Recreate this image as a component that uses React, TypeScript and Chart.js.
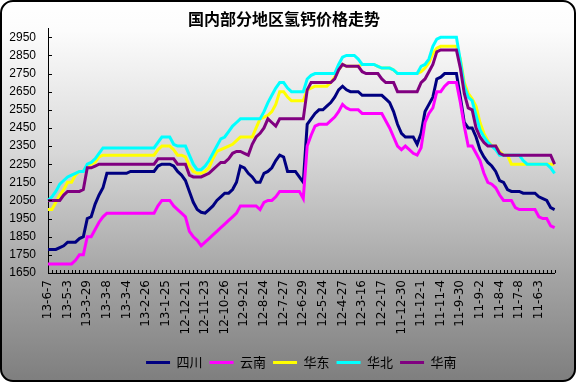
import React, { useEffect, useRef } from 'react';
import { Chart, registerables } from 'chart.js';

Chart.register(...registerables);

const chartTitle = '国内部分地区氢钙价格走势';

const tickLabels = [
  '13-6-7', '13-5-3', '13-3-29', '13-3-8', '13-3-4', '13-2-26', '13-1-25',
  '12-12-21', '12-11-23', '12-10-26', '12-9-21', '12-8-24', '12-7-27', '12-6-29',
  '12-5-24', '12-4-27', '12-3-16', '12-2-17', '11-12-30', '11-12-1', '11-11-4',
  '11-9-30', '11-9-2', '11-8-4', '11-7-8', '11-6-3',
];

const yTicks = [1650, 1750, 1850, 1950, 2050, 2150, 2250, 2350, 2450, 2550, 2650, 2750, 2850, 2950];

const sichuan = [
  1780, 1780, 1780, 1790, 1800, 1820, 1820, 1820, 1840, 1850,
  1950, 1960, 2030, 2080, 2120, 2200, 2200, 2200, 2200, 2200,
  2200, 2210, 2210, 2210, 2210, 2210, 2210, 2210, 2240, 2250,
  2250, 2250, 2240, 2210, 2190, 2160, 2100, 2040, 2000, 1985,
  1980, 2000, 2020, 2050, 2070, 2090, 2090, 2110, 2150, 2240,
  2230, 2200, 2180, 2150, 2150, 2200, 2210, 2230, 2270, 2300,
  2290, 2210, 2210, 2210, 2180, 2150, 2470, 2500, 2530, 2550,
  2550, 2570, 2590, 2620, 2660, 2680, 2660, 2650, 2650, 2650,
  2630, 2630, 2630, 2630, 2630, 2630, 2610, 2590, 2540, 2470,
  2420, 2400, 2400, 2400, 2360, 2420, 2540, 2580, 2620, 2720,
  2730, 2750, 2750, 2750, 2750, 2620, 2480, 2450, 2450, 2400,
  2330, 2290, 2260, 2240, 2210, 2160, 2150, 2110, 2100, 2100,
  2100, 2090, 2090, 2090, 2090, 2070, 2060, 2050, 2010, 2000,
];

const yunnan = [
  1700, 1700, 1700, 1700, 1700, 1700, 1700, 1720, 1750, 1750,
  1850, 1850, 1890, 1930, 1960, 1980, 1980, 1980, 1980, 1980,
  1980, 1980, 1980, 1980, 1980, 1980, 1980, 1980, 2020, 2050,
  2050, 2050, 2020, 2000, 1980, 1960, 1880, 1850, 1830, 1800,
  1820, 1840, 1860, 1880, 1900, 1920, 1940, 1960, 1980, 2020,
  2020, 2020, 2020, 2020, 2000, 2040, 2050, 2050, 2070, 2100,
  2100, 2100, 2100, 2100, 2100, 2060, 2350, 2410, 2460, 2470,
  2470, 2470, 2490, 2510, 2540, 2580, 2560, 2550, 2550, 2550,
  2530, 2530, 2530, 2530, 2530, 2530, 2490, 2450, 2400, 2350,
  2330, 2350, 2330, 2310, 2300, 2340, 2480, 2530, 2560, 2650,
  2650, 2680, 2700, 2700, 2700, 2590, 2460, 2350, 2350, 2310,
  2270, 2200, 2150, 2140, 2120, 2080, 2050, 2050, 2050, 2010,
  2000, 2000, 2000, 2000, 2000, 1960, 1950, 1950, 1910, 1900,
];

const huadong = [
  2000, 2000, 2040, 2080, 2110, 2150, 2150, 2190, 2210, 2210,
  2240, 2250, 2260, 2290, 2300, 2300, 2300, 2300, 2300, 2300,
  2300, 2300, 2300, 2300, 2300, 2300, 2300, 2300, 2330, 2350,
  2350, 2350, 2330, 2300, 2300, 2290, 2240, 2210, 2200, 2200,
  2210, 2230, 2280, 2320, 2330, 2340, 2350, 2360, 2380, 2400,
  2400, 2400, 2400, 2450, 2500, 2510, 2520, 2540, 2580, 2650,
  2650, 2620, 2600, 2600, 2600, 2600, 2660, 2670, 2680, 2680,
  2680, 2680, 2700, 2730, 2770, 2800, 2790, 2790, 2790, 2790,
  2800, 2800, 2800, 2800, 2790, 2780, 2780, 2780, 2770, 2750,
  2750, 2750, 2750, 2750, 2750, 2760, 2780, 2810, 2860, 2890,
  2900, 2900, 2900, 2900, 2900, 2830, 2700, 2640, 2610, 2570,
  2480, 2420, 2380, 2350, 2350, 2320, 2300, 2300, 2250, 2250,
  2250, 2250, 2250, 2250, 2250, 2250, 2250, 2250, 2250, 2250,
];

const huabei = [
  2050, 2070, 2100, 2140, 2160, 2180, 2190, 2200, 2210, 2210,
  2250, 2260, 2280, 2310, 2340, 2340, 2340, 2340, 2340, 2340,
  2340, 2340, 2340, 2340, 2340, 2340, 2340, 2340, 2370, 2400,
  2400, 2400, 2360, 2350, 2350, 2350, 2300, 2250, 2220, 2220,
  2240, 2270, 2310, 2350, 2390, 2400, 2430, 2460, 2480, 2500,
  2500, 2500, 2500, 2500, 2500, 2540, 2590, 2630, 2670, 2700,
  2700, 2670, 2650, 2650, 2650, 2650, 2720, 2740, 2750, 2750,
  2750, 2750, 2750, 2750, 2800, 2840, 2850, 2850, 2850, 2830,
  2800, 2800, 2800, 2800, 2790, 2780, 2780, 2780, 2770, 2750,
  2750, 2750, 2750, 2750, 2750, 2790, 2800, 2830, 2900, 2940,
  2950, 2950, 2950, 2950, 2950, 2820, 2680, 2620, 2600, 2520,
  2440, 2400, 2370, 2350, 2330, 2300, 2300, 2300, 2300, 2300,
  2300, 2270, 2250, 2250, 2250, 2250, 2250, 2250, 2230, 2200,
];

const huanan = [
  2050, 2050, 2050, 2050, 2080, 2100, 2100, 2100, 2100, 2110,
  2230, 2230, 2240, 2250, 2250, 2250, 2250, 2250, 2250, 2250,
  2250, 2250, 2250, 2250, 2250, 2250, 2250, 2250, 2280, 2280,
  2280, 2280, 2280, 2250, 2250, 2250, 2190, 2180, 2180, 2180,
  2190, 2200, 2220, 2240, 2260, 2260, 2280, 2310, 2320, 2320,
  2310, 2300, 2360, 2400, 2420, 2450, 2500, 2480, 2460, 2500,
  2500, 2500, 2500, 2500, 2500, 2500, 2660, 2700, 2700, 2700,
  2700, 2700, 2700, 2720, 2770, 2800, 2790, 2790, 2790, 2790,
  2760, 2750, 2750, 2750, 2750, 2720, 2700, 2700, 2700, 2650,
  2650, 2650, 2650, 2650, 2650, 2700, 2720, 2760, 2800, 2870,
  2880, 2880, 2880, 2880, 2880, 2780, 2640, 2560, 2550, 2450,
  2400, 2370, 2350, 2350, 2350, 2310, 2300, 2300, 2300, 2300,
  2300, 2300, 2300, 2300, 2300, 2300, 2300, 2300, 2300, 2250,
];

const seriesNames = ['四川', '云南', '华东', '华北', '华南'];
const seriesColors = ['#000080', '#FF00FF', '#FFFF00', '#00FFFF', '#800080'];
const labelEvery = 5;

const panelPlugin = {
  id: 'panelPlugin',
  beforeDraw(chart: any) {
    const { ctx, width, height } = chart;
    ctx.save();
    const g = ctx.createLinearGradient(0, 0, 0, height);
    g.addColorStop(0, '#ffffff');
    g.addColorStop(0.08, '#fcfcfc');
    g.addColorStop(0.4, '#d8d8d8');
    g.addColorStop(0.73, '#a3a3a3');
    g.addColorStop(1, '#7e7e7e');
    ctx.beginPath();
    ctx.roundRect(1, 1, width - 2, height - 2, 12);
    ctx.fillStyle = g;
    ctx.fill();
    ctx.lineWidth = 2;
    ctx.strokeStyle = '#000';
    ctx.stroke();
    ctx.restore();
  },
  afterDatasetsDraw(chart: any) {
    const { ctx, chartArea, scales } = chart;
    const xs = scales.x;
    const ys = scales.y;
    ctx.save();
    ctx.strokeStyle = '#000';
    ctx.lineWidth = 1;
    ctx.beginPath();
    for (let i = 0; i < chart.data.labels.length; i++) {
      const px = Math.round(xs.getPixelForValue(i)) + 0.5;
      ctx.moveTo(px, chartArea.bottom);
      ctx.lineTo(px, chartArea.bottom - 3);
    }
    for (const v of yTicks) {
      const py = Math.round(ys.getPixelForValue(v)) + 0.5;
      ctx.moveTo(chartArea.left, py);
      ctx.lineTo(chartArea.left + 4, py);
    }
    ctx.stroke();
    ctx.restore();
  },
};

export default function App() {
  const ref = useRef<HTMLCanvasElement>(null);

  useEffect(() => {
    if (!ref.current) return;
    const values = [sichuan, yunnan, huadong, huabei, huanan];
    const categories = sichuan.map((_, i) => (i % labelEvery === 0 ? tickLabels[i / labelEvery] ?? '' : ''));
    const chart = new Chart(ref.current, {
      type: 'line',
      data: {
        labels: categories,
        datasets: values.map((data, k) => ({
          label: seriesNames[k],
          data,
          borderColor: seriesColors[k],
          backgroundColor: seriesColors[k],
          borderWidth: 3,
          pointRadius: 0,
          pointHoverRadius: 0,
          tension: 0,
          fill: false,
          order: values.length - k,
        })),
      },
      options: {
        responsive: false,
        animation: false,
        devicePixelRatio: 1,
        layout: { padding: { left: 0, right: 8, top: 0, bottom: 3 } },
        plugins: {
          title: {
            display: true,
            text: chartTitle,
            color: '#000',
            font: { family: '"Noto Sans CJK SC", sans-serif', size: 16, weight: 'bold' },
            padding: { top: 9, bottom: 0 },
          },
          legend: {
            display: true,
            position: 'bottom',
            fullSize: false,
            labels: {
              color: '#000',
              font: { family: '"Noto Sans CJK SC", sans-serif', size: 13 },
              boxWidth: 24,
              boxHeight: 3,
              padding: 7,
              sort: (a: any, b: any) => a.datasetIndex - b.datasetIndex,
              generateLabels: (c: any) =>
                Chart.defaults.plugins.legend.labels
                  .generateLabels(c)
                  .map((l: any) => ({ ...l, lineWidth: 0, fillStyle: l.strokeStyle })),
            },
          },
          tooltip: { enabled: false },
        },
        scales: {
          x: {
            type: 'category',
            offset: false,
            grid: { display: false, drawTicks: false },
            border: { display: true, color: '#000', width: 1 },
            ticks: {
              autoSkip: false,
              maxRotation: 90,
              minRotation: 90,
              padding: 7,
              color: '#000',
              font: { family: '"DejaVu Sans", sans-serif', size: 12 },
            },
            afterFit: (s: any) => {
              s.height = 76;
            },
          },
          y: {
            type: 'linear',
            min: 1650,
            max: 3000,
            grid: { display: false, drawTicks: false },
            border: { display: true, color: '#000', width: 1 },
            ticks: {
              padding: 12,
              color: '#000',
              font: { family: '"Liberation Sans", sans-serif', size: 12 },
              callback: (v: any) => String(v),
            },
            afterBuildTicks: (s: any) => {
              s.ticks = yTicks.map((v) => ({ value: v }));
            },
            afterFit: (s: any) => {
              s.width = 48;
            },
          },
        },
      },
      plugins: [panelPlugin],
    });
    return () => chart.destroy();
  }, []);

  return (
    <div style={{ position: 'absolute', left: 0, top: 0, width: 576, height: 382 }}>
      <canvas ref={ref} width={576} height={382} />
    </div>
  );
}
